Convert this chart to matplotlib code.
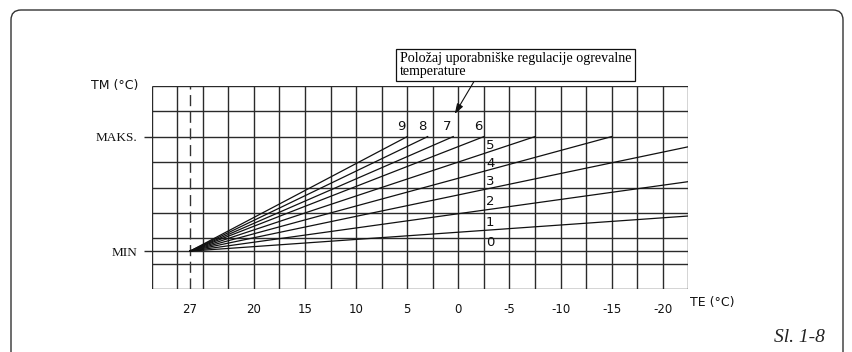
import numpy as np
import matplotlib
matplotlib.use("Agg")
import matplotlib.pyplot as plt
from matplotlib.patches import FancyBboxPatch

# grid: TE columns every 2.5 degC from 30 down to -22.5, TM rows 0..8
grid_te = np.arange(30, -22.6, -2.5)
grid_rows = np.arange(0, 9)
row_min = 1.5
row_maks = 6.0

# origin of the heating curves (dashed line, labelled 27)
origin_te = 26.25
origin_row = 1.5

# curve settings 1..9: end points (TE, TM row)
settings = [1, 2, 3, 4, 5, 6, 7, 8, 9]
end_te = [-22.5, -22.5, -22.5, -15.0, -7.5, -2.5, 0.5, 3.0, 5.0]
end_row = [2.88, 4.23, 5.60, 6.0, 6.0, 6.0, 6.0, 6.0, 6.0]

tick_te = [26.25, 20, 15, 10, 5, 0, -5, -10, -15, -20]
tick_labels = ["27", "20", "15", "10", "5", "0", "-5", "-10", "-15", "-20"]

label_col_te = -2.5  # column where labels 0..5 sit

W, H = 853, 352
fig = plt.figure(figsize=(W / 100, H / 100), dpi=100)
left, right, top, bottom = 151.7, 688.3, 85.7, 289.3
ax = fig.add_axes([left / W, 1 - bottom / H, (right - left) / W, (bottom - top) / H])
ax.set_xlim(30, -22.5)
ax.set_ylim(0, 8)
for s in ax.spines.values():
    s.set_visible(False)

gc = "#2a2a2a"
for t in grid_te:
    ax.plot([t, t], [0, 8], color=gc, lw=1.0, solid_capstyle="butt")
for r in grid_rows:
    ax.plot([30, -22.5], [r, r], color=gc, lw=1.0, solid_capstyle="butt")
# MIN line (setting 0)
ax.plot([30, -22.5], [row_min, row_min], color=gc, lw=1.0)

# dashed line at 27
ax.plot([origin_te, origin_te], [0, 8], color="#333333", lw=1.0,
        linestyle=(0, (8, 4)))

# heating curves
for s, te, r in zip(settings, end_te, end_row):
    ax.plot([origin_te, te], [origin_row, r], color="#111111", lw=0.9)

# labels 6..9 above MAKS at the end of the curves
for s, te, r in zip(settings, end_te, end_row):
    if s >= 6:
        ax.annotate(str(s), (te, r), xytext=(-1, 2.5), textcoords="offset points",
                    ha="right", va="bottom", fontsize=9.5, color="#111111")

# labels 0..5 along the column at -2.5
for s in [0, 1, 2, 3, 4, 5]:
    if s == 0:
        yv = row_min
    else:
        i = settings.index(s)
        yv = np.interp(-label_col_te, [-origin_te, -end_te[i]], [origin_row, end_row[i]])
    ax.annotate(str(s), (label_col_te, yv), xytext=(1.5, 1.2), textcoords="offset points",
                ha="left", va="bottom", fontsize=9.5, color="#111111")

# axes ticks and labels
ax.set_xticks(tick_te, tick_labels)
ax.tick_params(axis="x", length=0, pad=10, labelsize=8.5, labelcolor="#111111")
ax.set_yticks([row_min, row_maks], ["MIN", "MAKS."])
ax.tick_params(axis="y", length=5.5, width=1.0, color=gc, pad=5)
for lab in ax.get_yticklabels():
    lab.set_fontfamily("Liberation Serif")
    lab.set_fontsize(9.5)
    lab.set_color("#111111")

ax.text(-0.0255, 1.0, "TM (°C)", transform=ax.transAxes, ha="right", va="center",
        fontsize=9, color="#111111")
ax.text(1.003, -0.067, "TE (°C)", transform=ax.transAxes, ha="left", va="center",
        fontsize=9, color="#111111")

# annotation box with arrow to setting 7
ax.annotate("Položaj uporabniške regulacije ogrevalne\ntemperature",
            xy=(0.35, 6.89), xycoords="data",
            xytext=(0.4625, 1.165), textcoords="axes fraction",
            ha="left", va="top", fontsize=10.1, family="Liberation Serif",
            linespacing=0.95, annotation_clip=False,
            bbox=dict(boxstyle="square,pad=0.25", fc="white", ec="#111111", lw=0.9),
            arrowprops=dict(arrowstyle="-|>,head_length=0.6,head_width=0.2",
                            color="#111111", lw=0.8, relpos=(0.33, 0.0),
                            shrinkA=0, shrinkB=0))

fig.text(799 / W, 1 - 338 / H, "Sl. 1-8", ha="center", va="center",
         fontsize=14, style="italic", family="Liberation Serif", color="#222222")

frame = FancyBboxPatch((0.11, -0.5), 8.32, 3.92,
                       boxstyle="round,pad=0,rounding_size=0.1",
                       transform=fig.dpi_scale_trans, fill=False,
                       ec="#333333", lw=1.0)
fig.add_artist(frame)

fig.savefig("out.png", dpi=100)
